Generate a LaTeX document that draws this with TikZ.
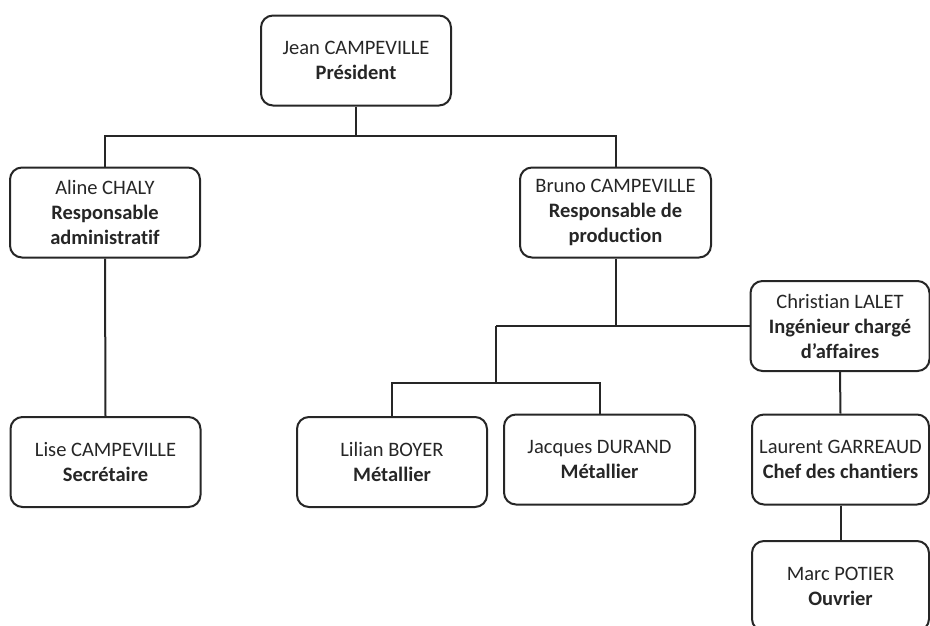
\documentclass[tikz,border=0pt]{standalone}
\usepackage{fontspec}
\setmainfont{Carlito}[Ligatures=NoCommon]
\begin{document}
\begin{tikzpicture}[x=1pt,y=-1pt,
  box/.style={draw=black!85, line width=2pt, rounded corners=12pt, rectangle,
    minimum width=#1, minimum height=90pt, align=center, inner sep=0pt,
    font=\fontsize{20.5}{25}\selectfont, text=black!85},
  box/.default=190pt,
  link/.style={draw=black!85, line width=2pt}]
\useasboundingbox (0,0) rectangle (930,625);
\clip (0,0) rectangle (930,625);
\node[box] (pres) at (356,60.5) {Jean CAMPEVILLE\\\textbf{Président}};
\node[box] (aline) at (105,212.5) {Aline CHALY\\\textbf{Responsable}\\\textbf{administratif}};
\node[box=191pt] (bruno) at (615.5,212.5) {Bruno CAMPEVILLE\\\textbf{Responsable de}\\\textbf{production}};
\node[box=179pt] (chris) at (840,326) {Christian LALET\\\textbf{Ingénieur chargé}\\\textbf{d’affaires}};
\node[box] (lise) at (105.5,462) {Lise CAMPEVILLE\\\textbf{Secrétaire}};
\node[box] (lilian) at (392,462) {Lilian BOYER\\\textbf{Métallier}};
\node[box=191pt] (jacques) at (599.5,459.5) {Jacques DURAND\\\textbf{Métallier}};
\node[box=177pt] (laurent) at (840.5,459.5) {Laurent GARREAUD\\\textbf{Chef des chantiers}};
\node[box=177pt] (marc) at (840.5,586) {Marc POTIER\\\textbf{Ouvrier}};
\coordinate (j1) at (356,136);
\coordinate (j2) at (496,326);
\coordinate (j3) at (496,383);
\draw[link] (pres.south) -- (j1);
\draw[link] (aline.north) |- (j1) -| (bruno.north);
\draw[link] (aline.south) -- (lise.north);
\draw[link] (bruno.south) |- (chris.west);
\draw[link] (j2) -- (chris.west);
\draw[link] (j2) -- (j3);
\draw[link] (lilian.north) |- (j3) -| (jacques.north);
\draw[link] (chris.south) -- (laurent.north);
\draw[link] (laurent.south) -- (marc.north);
\end{tikzpicture}
\end{document}
